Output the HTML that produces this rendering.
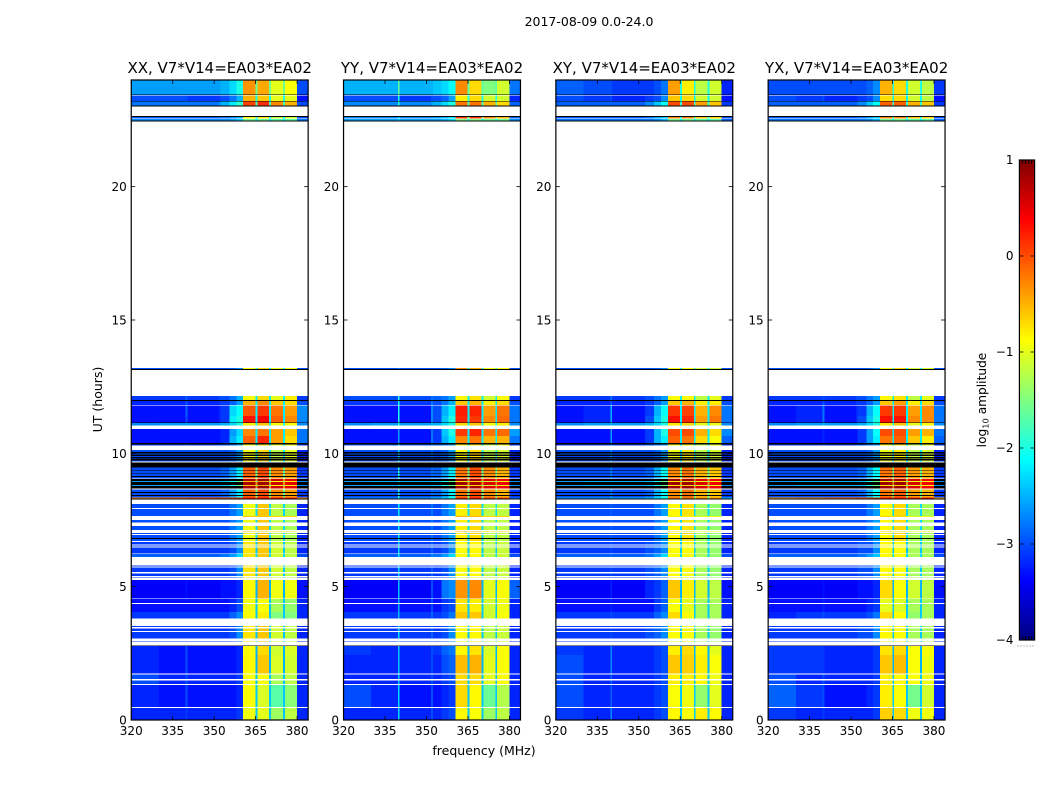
<!DOCTYPE html>
<html lang="en">
<head>
<meta charset="utf-8">
<title>2017-08-09 0.0-24.0 dynamic spectra</title>
<style>
html,body{margin:0;padding:0;background:#fff;}
svg{display:block;font-family:"DejaVu Sans","Liberation Sans",sans-serif;}
</style>
</head>
<body>
<svg id="figure" xmlns="http://www.w3.org/2000/svg" width="1050" height="800" viewBox="0 0 1050 800">
  <rect x="0" y="0" width="1050" height="800" fill="#fff"/>
  <text x="589" y="26" font-size="12.5" text-anchor="middle" fill="#000">2017-08-09 0.0-24.0</text>
  <text x="0" y="0" transform="translate(102,399.5) rotate(-90)" font-size="12.5" text-anchor="middle" fill="#000">UT (hours)</text>
  <text x="484" y="755" font-size="12.5" text-anchor="middle" fill="#000">frequency (MHz)</text>
  <text x="0" y="0" transform="translate(986,400) rotate(-90)" font-size="12.2" text-anchor="middle" fill="#000">log<tspan font-size="8.3" dy="2.5">10</tspan><tspan dy="-2.5"> amplitude</tspan></text>
  <g id="panels"></g>
  <g id="colorbar"></g>
</svg>
<script>
/* ---------- axis data ---------- */
const panelTitles = ["XX, V7*V14=EA03*EA02", "YY, V7*V14=EA03*EA02", "XY, V7*V14=EA03*EA02", "YX, V7*V14=EA03*EA02"];
const panelKeys = ["xx", "yy", "xy", "yx"];
const freqTicks = [320, 335, 350, 365, 380];
const hourTicks = [0, 5, 10, 15, 20];
const colorbarTicks = [1, 0, -1, -2, -3, -4];
const colorbarTickLabels = ["1", "0", "\u22121", "\u22122", "\u22123", "\u22124"];
const freqRange = [320, 384];
const hourRange = [0, 24];
const levelRange = [-4, 1];

/* frequency channel-group edges (MHz), 16 columns */
const freqEdges = [320, 330, 339.7, 340.3, 351.7, 352.3, 355.5, 358, 360.5, 364.9, 365.6, 369.9, 370.6, 374.9, 375.6, 380, 384];

/* time rows: [hour at top of the row, spectrum profile], read top to bottom; each ends at the next row */
const timeRows = [
[24.00,"T1"],[23.46,"flag"],[23.44,"gap"],[23.41,"T2"],[23.21,"flag"],[23.19,"T3"],[23.04,"flag"],[23.00,"gap"],
[22.65,"flag"],[22.61,"T4"],[22.56,"gap"],[22.53,"T5"],[22.49,"flag"],[22.45,"gap"],[13.20,"T6"],[13.16,"flag"],[13.13,"gap"],
[12.15,"M1"],[12.00,"flag"],[11.96,"M3"],[11.82,"gap"],[11.79,"H1"],[11.40,"H2"],[11.16,"flag"],[11.13,"M2"],[11.04,"gap"],
[10.91,"H3"],[10.65,"H4"],[10.38,"flag"],[10.34,"M1"],[10.29,"gap"],[10.13,"S1"],[10.05,"flag"],[9.99,"S1"],[9.96,"flag"],
[9.90,"S1"],[9.86,"flag"],[9.81,"S1"],[9.78,"flag"],[9.73,"S1"],[9.69,"gap"],[9.65,"flag"],[9.46,"S2"],[9.38,"flag"],
[9.35,"S2"],[9.26,"flag"],[9.24,"S2"],[9.15,"flag"],[9.12,"S2"],[9.06,"gap"],[9.03,"D"],[8.96,"S3"],[8.93,"D"],[8.81,"S3"],
[8.78,"D"],[8.69,"gap"],[8.64,"S2"],[8.55,"flag"],[8.51,"S2"],[8.44,"flag"],[8.40,"S2"],[8.35,"R"],[8.30,"flag"],[8.26,"gap"],
[8.10,"L1"],[7.95,"gap"],[7.91,"L1"],[7.65,"Y"],[7.61,"gap"],[7.50,"L1"],[7.40,"gap"],[7.28,"L1"],[7.13,"gap"],[7.09,"Y"],
[7.06,"gap"],[7.02,"L1"],[6.98,"gap"],[6.93,"L1"],[6.83,"flag"],[6.79,"L1"],[6.71,"gap"],[6.68,"L4"],[6.59,"gap"],[6.55,"L4"],
[6.50,"gap"],[6.46,"L4"],[6.25,"gap"],[6.23,"L5"],[6.12,"gap"],[5.80,"L4"],[5.76,"gap"],[5.72,"L4"],[5.55,"gap"],[5.50,"L4"],
[5.40,"gap"],[5.35,"L4"],[5.33,"gap"],[5.25,"L6"],[4.56,"gap"],[4.53,"L7"],[4.39,"gap"],[4.35,"L7"],[4.05,"L8"],[3.80,"gap"],
[3.53,"L4"],[3.48,"gap"],[3.44,"L4"],[3.34,"gap"],[3.30,"L4"],[3.06,"gap"],[2.97,"L4"],[2.94,"gap"],[2.80,"flag"],[2.78,"B1"],
[2.44,"B2"],[1.75,"gap"],[1.71,"B3"],[1.53,"gap"],[1.49,"B3"],[1.35,"gap"],[1.31,"B4"],[0.49,"gap"],[0.45,"B5"]
];

/* log10 amplitude per profile; columns follow freqEdges; values below the range draw black, null stays white */
const xxLevels = {
T1:[-2.6,-2.6,-2.6,-2.6,-2.6,-2.5,-2.3,-2.0,-0.35,-1.6,-0.45,-1.6,-1.0,-1.6,-0.9,-3.0],
T2:[-3.0,-3.0,-3.0,-3.1,-3.1,-3.0,-2.8,-2.5,-0.5,-2.0,-0.6,-2.0,-1.0,-2.0,-1.0,-3.3],
T3:[-2.8,-2.8,-2.8,-2.8,-2.7,-2.5,-2.2,-1.9,0.05,-1.8,0.15,-1.8,-0.3,-1.8,-0.5,-3.0],
T4:[-2.9,-2.9,-2.9,-2.9,-2.9,-2.8,-2.7,-2.5,-0.9,-2.2,-0.8,-2.2,-1.2,-2.2,-1.1,-3.0],
T5:[-2.7,-2.7,-2.7,-2.7,-2.7,-2.7,-2.6,-2.4,-1.6,-2.2,-1.6,-2.2,-1.7,-2.2,-1.7,-2.8],
T6:[-3.0,-3.0,-3.0,-3.0,-3.0,-3.0,-2.9,-2.7,-0.9,-2.2,-0.7,-2.2,-1.0,-2.2,-0.9,-3.0],
M1:[-3.1,-3.1,-2.9,-3.1,-3.0,-3.0,-2.8,-2.5,-0.9,-2.2,-0.7,-2.2,-1.0,-2.2,-0.8,-3.1],
M2:[-2.7,-2.6,-2.6,-2.6,-2.6,-2.5,-2.3,-2.0,-0.8,-2.0,-0.6,-2.0,-0.9,-2.0,-0.9,-2.7],
M3:[-3.2,-3.2,-3.0,-3.2,-3.1,-3.1,-2.9,-2.6,-0.5,-2.2,-0.3,-2.2,-0.6,-2.2,-0.7,-3.0],
H1:[-3.3,-3.3,-2.9,-3.3,-3.2,-3.1,-2.3,-2.1,-0.05,-2.2,0.1,-2.2,-0.2,-2.2,-0.4,-2.7],
H2:[-3.3,-3.3,-3.0,-3.3,-3.2,-3.1,-2.2,-2.0,0.3,-2.2,0.4,-2.2,-0.1,-2.2,-0.3,-2.7],
H3:[-3.3,-3.3,-3.3,-3.3,-3.3,-3.2,-2.6,-2.3,-0.3,-2.2,-0.2,-2.2,-0.4,-2.2,-0.6,-2.8],
H4:[-3.3,-3.3,-3.3,-3.3,-3.3,-3.2,-2.5,-2.2,-0.1,-2.2,0.2,-2.2,-0.4,-2.2,-0.7,-2.8],
S1:[-3.0,-3.0,-3.0,-3.0,-3.0,-3.0,-2.9,-2.6,-0.9,-2.2,-0.7,-2.2,-1.2,-2.2,-1.0,-3.2],
S2:[-3.0,-3.0,-3.0,-3.0,-3.0,-2.9,-2.6,-2.2,-0.1,-1.6,0.0,-1.6,-0.3,-1.6,-0.4,-3.1],
S3:[-2.6,-2.5,-2.5,-2.5,-2.5,-2.4,-2.0,-1.6,-0.6,-1.6,-0.5,-1.6,-0.9,-1.6,-0.8,-2.7],
D:[-9,-9,-9,-9,-9,-9,-9,-9,0.8,-0.3,0.85,-0.3,0.6,-0.3,0.5,-9],
R:[-0.3,-0.2,-0.2,-0.1,-0.1,-0.1,0.0,0.1,0.3,0.0,0.3,0.0,0.3,0.0,0.3,-0.4],
L1:[-3.0,-3.0,-3.0,-3.0,-3.0,-3.0,-2.8,-2.6,-0.95,-2.3,-0.6,-2.3,-1.2,-2.3,-1.3,-3.2],
L4:[-3.1,-3.1,-3.1,-3.1,-3.1,-3.1,-3.0,-2.7,-0.75,-2.4,-0.6,-2.4,-1.1,-2.4,-1.2,-3.2],
L5:[-2.9,-2.9,-2.9,-2.9,-2.9,-2.8,-2.6,-2.3,-0.75,-2.3,-0.6,-2.3,-1.1,-2.3,-1.2,-3.0],
L6:[-3.4,-3.4,-3.3,-3.4,-3.4,-3.3,-3.3,-3.2,-0.85,-2.5,-0.5,-2.5,-0.95,-2.5,-0.95,-3.3],
L7:[-3.3,-3.3,-3.3,-3.3,-3.3,-3.3,-3.2,-3.0,-0.95,-2.4,-0.9,-2.4,-1.3,-2.4,-1.4,-3.2],
L8:[-3.1,-3.1,-3.1,-3.1,-3.1,-3.1,-2.9,-2.7,-0.9,-2.4,-0.8,-2.4,-1.5,-2.4,-1.5,-3.2],
Y:[null,null,null,null,null,null,null,null,-0.6,-0.8,-0.6,-0.8,-0.7,-0.8,-0.7,null],
B1:[-3.2,-3.3,-3.0,-3.3,-3.3,-3.3,-3.3,-3.2,-0.9,-2.5,-0.7,-2.5,-1.1,-2.5,-1.05,-3.2],
B2:[-3.2,-3.3,-3.0,-3.3,-3.3,-3.3,-3.3,-3.2,-0.85,-2.5,-0.6,-2.5,-1.05,-2.5,-1.1,-3.2],
B3:[-3.0,-3.2,-3.0,-3.2,-3.2,-3.2,-3.2,-3.1,-0.9,-2.4,-0.9,-2.4,-1.3,-2.4,-1.2,-3.2],
B4:[-3.2,-3.3,-3.0,-3.3,-3.3,-3.3,-3.3,-3.2,-0.9,-2.4,-1.05,-2.4,-1.7,-2.4,-1.45,-3.2],
B5:[-3.2,-3.2,-3.1,-3.2,-3.2,-3.2,-3.2,-3.1,-0.95,-2.4,-1.0,-2.4,-1.35,-2.4,-1.2,-3.2]
};
const yyLevels = {
T1:[-2.5,-2.5,-1.6,-2.5,-2.5,-2.4,-2.3,-2.1,-0.3,-1.7,-0.7,-1.7,-1.5,-1.7,-1.1,-2.8],
T2:[-3.0,-3.0,-2.0,-3.1,-3.0,-3.0,-2.9,-2.6,-0.8,-2.0,-0.7,-2.0,-1.1,-2.0,-1.1,-3.2],
T3:[-2.7,-2.7,-1.9,-2.7,-2.6,-2.5,-2.3,-2.0,-0.2,-1.8,-0.2,-1.8,-0.5,-1.8,-0.7,-2.9],
T4:[-2.7,-2.7,-2.3,-2.7,-2.7,-2.6,-2.5,-2.3,0.1,-1.5,0.1,-1.5,-0.3,-1.5,-0.5,-2.9],
T5:[-2.6,-2.6,-2.3,-2.6,-2.6,-2.6,-2.5,-2.3,-1.5,-2.1,-1.5,-2.1,-1.6,-2.1,-1.6,-2.7],
T6:[-3.0,-3.0,-2.7,-3.0,-3.0,-3.0,-2.9,-2.7,-0.3,-2.2,-0.5,-2.2,-0.9,-2.2,-0.9,-3.0],
M1:[-3.0,-3.0,-2.0,-3.0,-2.8,-2.9,-2.8,-2.6,-0.85,-2.2,-0.75,-2.2,-1.1,-2.2,-0.9,-3.1],
M2:[-2.7,-2.6,-1.9,-2.6,-2.5,-2.5,-2.3,-2.0,-0.7,-2.0,-0.6,-2.0,-0.9,-2.0,-0.8,-2.7],
M3:[-3.1,-3.1,-2.0,-3.1,-2.8,-3.0,-2.8,-2.5,-0.6,-2.2,-0.5,-2.2,-0.8,-2.2,-0.7,-3.0],
H1:[-3.3,-3.3,-2.0,-3.3,-2.7,-3.0,-2.5,-2.2,0.25,-2.2,0.2,-2.2,-0.4,-2.2,-0.2,-2.8],
H2:[-3.3,-3.3,-2.0,-3.3,-2.7,-3.0,-2.4,-2.0,0.2,-2.2,0.1,-2.2,-0.3,-2.2,-0.15,-2.8],
H3:[-3.3,-3.3,-2.6,-3.3,-2.8,-3.1,-2.4,-2.0,0.1,-2.2,0.2,-2.2,-0.2,-2.2,-0.15,-2.6],
H4:[-3.3,-3.3,-2.6,-3.3,-2.8,-3.1,-2.5,-2.2,-0.3,-2.2,-0.2,-2.2,-0.5,-2.2,-0.5,-2.8],
S1:[-3.0,-3.0,-2.2,-3.0,-2.8,-3.0,-2.9,-2.6,-0.9,-2.2,-0.7,-2.2,-1.2,-2.2,-1.1,-3.2],
S2:[-3.0,-3.0,-2.0,-3.0,-2.8,-2.9,-2.6,-2.2,-0.2,-1.6,0.0,-1.6,-0.3,-1.6,-0.5,-3.1],
S3:[-2.6,-2.5,-2.0,-2.5,-2.4,-2.4,-2.0,-1.6,-0.8,-1.6,-0.7,-1.6,-1.1,-1.6,-1.0,-2.7],
D:[-9,-9,-9,-9,-9,-9,-9,-9,0.85,-0.3,0.8,-0.3,0.55,-0.3,0.45,-9],
R:[-2.7,-2.7,-2.2,-2.6,-2.5,-2.4,-2.3,-2.0,0.2,-1.5,0.3,-1.5,0.1,-1.5,0.1,-2.8],
L1:[-3.0,-3.0,-2.2,-3.0,-2.8,-3.0,-2.8,-2.6,-0.8,-2.3,-0.7,-2.3,-1.2,-2.3,-1.2,-3.2],
L4:[-3.1,-3.1,-2.3,-3.1,-2.9,-3.1,-3.0,-2.7,-0.9,-2.4,-0.85,-2.4,-1.2,-2.4,-1.15,-3.2],
L5:[-2.9,-2.9,-2.2,-2.9,-2.7,-2.8,-2.6,-2.3,-0.9,-2.3,-0.85,-2.3,-1.2,-2.3,-1.15,-3.0],
L6:[-3.4,-3.4,-2.4,-3.4,-3.0,-3.3,-2.8,-2.7,-0.35,-2.5,-0.3,-2.5,-1.0,-2.5,-0.9,-2.9],
L7:[-3.3,-3.3,-2.5,-3.3,-3.0,-3.3,-3.1,-3.0,-0.75,-2.4,-0.8,-2.4,-1.1,-2.4,-0.95,-3.2],
L8:[-3.1,-3.1,-2.5,-3.1,-2.9,-3.1,-3.0,-2.8,-0.6,-2.4,-0.6,-2.4,-1.1,-2.4,-0.9,-3.2],
Y:[null,null,null,null,null,null,null,null,-0.5,-0.7,-0.5,-0.7,-0.7,-0.7,-0.7,null],
B1:[-3.1,-3.2,-2.4,-3.2,-3.0,-3.1,-2.9,-2.8,-0.85,-2.5,-0.75,-2.5,-1.05,-2.5,-0.9,-3.2],
B2:[-3.2,-3.2,-2.4,-3.2,-3.0,-3.2,-3.0,-2.9,-0.55,-2.5,-0.5,-2.5,-1.0,-2.5,-0.9,-3.2],
B3:[-3.2,-3.2,-2.4,-3.2,-3.0,-3.2,-3.1,-3.0,-0.7,-2.4,-0.7,-2.4,-1.0,-2.4,-0.9,-3.2],
B4:[-3.0,-3.2,-2.3,-3.3,-3.0,-3.3,-3.2,-3.1,-0.7,-2.4,-0.85,-2.4,-1.6,-2.4,-1.25,-3.2],
B5:[-3.2,-3.2,-2.3,-3.2,-3.0,-3.2,-3.1,-3.0,-0.85,-2.4,-0.9,-2.4,-1.35,-2.4,-1.2,-3.2]
};
const xyLevels = {
T1:[-2.9,-3.0,-3.0,-3.1,-3.1,-3.1,-3.0,-2.8,-0.4,-2.0,-0.8,-2.0,-1.2,-2.0,-1.1,-3.2],
T2:[-3.0,-3.1,-3.0,-3.2,-3.2,-3.1,-3.0,-2.7,-0.6,-2.1,-0.7,-2.1,-1.1,-2.1,-1.1,-3.3],
T3:[-2.9,-2.9,-2.9,-2.9,-2.9,-2.7,-2.4,-2.1,0.0,-1.9,0.0,-1.9,-0.4,-1.9,-0.6,-3.1],
T4:[-2.9,-2.9,-2.9,-2.9,-2.9,-2.8,-2.6,-2.4,-0.3,-2.0,-0.3,-2.0,-0.6,-2.0,-0.7,-3.0],
T5:[-2.8,-2.8,-2.8,-2.8,-2.8,-2.8,-2.7,-2.5,-1.6,-2.2,-1.6,-2.2,-1.7,-2.2,-1.7,-2.9],
T6:[-3.0,-3.0,-3.0,-3.0,-3.0,-3.0,-2.9,-2.7,-0.9,-2.2,-0.9,-2.2,-1.1,-2.2,-1.1,-3.0],
M1:[-3.1,-3.1,-2.8,-3.1,-3.1,-3.0,-2.8,-2.6,-0.9,-2.2,-0.85,-2.2,-1.2,-2.2,-1.0,-3.1],
M2:[-2.7,-2.6,-2.5,-2.6,-2.6,-2.5,-2.3,-2.0,-0.75,-2.0,-0.7,-2.0,-1.0,-2.0,-1.0,-2.7],
M3:[-3.2,-3.2,-2.9,-3.2,-3.2,-3.1,-2.9,-2.6,-0.6,-2.2,-0.5,-2.2,-0.8,-2.2,-0.8,-3.0],
H1:[-3.3,-3.2,-2.5,-3.3,-3.3,-3.1,-2.5,-2.1,0.1,-2.2,0.05,-2.2,-0.5,-2.2,-0.3,-2.8],
H2:[-3.3,-3.2,-2.5,-3.3,-3.3,-3.0,-2.4,-2.0,0.3,-2.2,0.2,-2.2,-0.4,-2.2,-0.2,-2.8],
H3:[-3.3,-3.3,-2.6,-3.3,-3.3,-3.1,-2.5,-2.0,0.0,-2.2,0.0,-2.2,-0.5,-2.2,-0.7,-2.7],
H4:[-3.3,-3.3,-2.6,-3.3,-3.3,-3.1,-2.5,-2.2,-0.1,-2.2,-0.2,-2.2,-0.7,-2.2,-0.9,-2.9],
S1:[-3.0,-3.0,-2.6,-3.0,-3.0,-3.0,-2.9,-2.6,-0.95,-2.2,-0.8,-2.2,-1.2,-2.2,-1.1,-3.2],
S2:[-3.0,-3.0,-2.7,-3.0,-3.0,-2.9,-2.5,-2.1,-0.3,-1.6,-0.2,-1.6,-0.5,-1.6,-0.6,-3.1],
S3:[-2.6,-2.5,-2.4,-2.5,-2.5,-2.4,-2.0,-1.6,-0.8,-1.6,-0.7,-1.6,-1.0,-1.6,-1.0,-2.7],
D:[-9,-9,-9,-9,-9,-9,-9,-9,0.85,-0.3,0.85,-0.3,0.55,-0.3,0.45,-9],
R:[-2.6,-2.6,-2.4,-2.5,-2.5,-2.4,-2.2,-2.0,-0.2,-1.6,-0.2,-1.6,-0.3,-1.6,-0.3,-2.4],
L1:[-3.0,-3.0,-2.9,-3.0,-3.0,-3.0,-2.8,-2.6,-0.85,-2.3,-0.75,-2.3,-1.3,-2.3,-1.4,-3.2],
L4:[-3.1,-3.1,-3.0,-3.1,-3.1,-3.0,-2.9,-2.7,-0.9,-2.4,-0.9,-2.4,-1.3,-2.4,-1.4,-3.2],
L5:[-2.9,-2.9,-2.8,-2.9,-2.9,-2.8,-2.6,-2.3,-0.9,-2.3,-0.9,-2.3,-1.3,-2.3,-1.4,-3.0],
L6:[-3.4,-3.4,-3.2,-3.4,-3.4,-3.2,-3.1,-2.9,-0.6,-2.5,-0.8,-2.5,-1.1,-2.5,-1.2,-3.3],
L7:[-3.3,-3.3,-3.2,-3.3,-3.3,-3.3,-3.1,-2.9,-0.9,-2.4,-1.0,-2.4,-1.3,-2.4,-1.3,-3.2],
L8:[-3.1,-3.1,-3.0,-3.1,-3.1,-3.1,-2.9,-2.7,-0.7,-2.4,-0.9,-2.4,-1.3,-2.4,-1.3,-3.2],
Y:[null,null,null,null,null,null,null,null,-0.8,-0.9,-0.8,-0.9,-1.0,-0.9,-1.0,null],
B1:[-3.1,-3.2,-2.7,-3.2,-3.2,-3.2,-3.1,-3.0,-0.8,-2.5,-0.7,-2.5,-0.85,-2.5,-1.0,-3.2],
B2:[-3.0,-3.2,-2.7,-3.2,-3.2,-3.2,-3.1,-3.0,-0.6,-2.5,-0.65,-2.5,-0.8,-2.5,-0.9,-3.2],
B3:[-3.0,-3.2,-2.9,-3.2,-3.2,-3.2,-3.1,-3.0,-0.8,-2.4,-0.8,-2.4,-0.85,-2.4,-0.95,-3.2],
B4:[-3.0,-3.2,-2.9,-3.2,-3.2,-3.2,-3.1,-3.0,-0.9,-2.4,-0.95,-2.4,-1.4,-2.4,-1.0,-3.2],
B5:[-3.1,-3.2,-2.7,-3.2,-3.2,-3.2,-3.1,-3.0,-0.85,-2.4,-0.9,-2.4,-0.8,-2.4,-0.85,-3.2]
};
const yxLevels = {
T1:[-3.0,-3.0,-3.0,-3.0,-3.0,-3.0,-2.9,-2.7,-0.5,-2.0,-0.7,-2.0,-1.1,-2.0,-1.2,-3.1],
T2:[-3.0,-3.1,-3.0,-3.2,-3.2,-3.1,-3.0,-2.7,-0.7,-2.1,-0.7,-2.1,-1.1,-2.1,-1.2,-3.3],
T3:[-2.9,-2.9,-2.9,-2.9,-2.9,-2.7,-2.4,-2.1,-0.1,-1.9,-0.1,-1.9,-0.5,-1.9,-0.6,-3.1],
T4:[-2.9,-2.9,-2.9,-2.9,-2.9,-2.8,-2.6,-2.4,-0.3,-2.0,-0.3,-2.0,-0.6,-2.0,-0.7,-3.0],
T5:[-2.8,-2.8,-2.8,-2.8,-2.8,-2.8,-2.7,-2.5,-1.6,-2.2,-1.6,-2.2,-1.7,-2.2,-1.7,-2.9],
T6:[-3.0,-3.0,-3.0,-3.0,-3.0,-3.0,-2.9,-2.7,-0.9,-2.2,-0.7,-2.2,-1.1,-2.2,-1.1,-3.0],
M1:[-3.1,-3.1,-3.0,-3.1,-3.0,-3.0,-2.8,-2.6,-0.85,-2.2,-0.75,-2.2,-1.2,-2.2,-1.0,-3.1],
M2:[-2.7,-2.6,-2.5,-2.6,-2.6,-2.5,-2.3,-2.0,-0.75,-2.0,-0.6,-2.0,-1.0,-2.0,-0.9,-2.7],
M3:[-3.2,-3.2,-3.0,-3.2,-3.1,-3.1,-2.9,-2.6,-0.6,-2.2,-0.4,-2.2,-0.8,-2.2,-0.7,-3.0],
H1:[-3.3,-3.2,-2.8,-3.3,-3.2,-3.1,-2.5,-2.1,0.1,-2.2,0.1,-2.2,-0.4,-2.2,-0.3,-2.8],
H2:[-3.3,-3.2,-2.8,-3.3,-3.2,-3.0,-2.4,-2.0,0.3,-2.2,0.3,-2.2,-0.3,-2.2,-0.3,-2.8],
H3:[-3.3,-3.3,-3.2,-3.3,-3.3,-3.1,-2.6,-2.1,0.0,-2.2,0.0,-2.2,-0.4,-2.2,-0.5,-2.8],
H4:[-3.3,-3.3,-3.2,-3.3,-3.3,-3.1,-2.6,-2.2,-0.2,-2.2,-0.1,-2.2,-0.6,-2.2,-0.8,-2.9],
S1:[-3.0,-3.0,-3.0,-3.0,-3.0,-3.0,-2.9,-2.6,-0.95,-2.2,-0.8,-2.2,-1.2,-2.2,-1.1,-3.2],
S2:[-3.0,-3.0,-3.0,-3.0,-3.0,-2.9,-2.5,-2.1,-0.2,-1.6,-0.1,-1.6,-0.4,-1.6,-0.5,-3.1],
S3:[-2.6,-2.5,-2.5,-2.5,-2.5,-2.4,-2.0,-1.6,-0.8,-1.6,-0.7,-1.6,-1.0,-1.6,-0.9,-2.7],
D:[-9,-9,-9,-9,-9,-9,-9,-9,0.85,-0.3,0.85,-0.3,0.55,-0.3,0.45,-9],
R:[-0.4,-0.3,-0.3,-0.2,-0.1,-0.1,0.0,0.1,0.3,0.0,0.3,0.0,0.3,0.0,0.3,-0.5],
L1:[-3.0,-3.0,-3.0,-3.0,-3.0,-3.0,-2.8,-2.6,-0.85,-2.3,-0.7,-2.3,-1.3,-2.3,-1.3,-3.2],
L4:[-3.1,-3.1,-3.1,-3.1,-3.1,-3.0,-3.0,-2.7,-0.85,-2.4,-0.9,-2.4,-1.3,-2.4,-1.3,-3.2],
L5:[-2.9,-2.9,-2.9,-2.9,-2.9,-2.8,-2.6,-2.4,-0.85,-2.3,-0.9,-2.3,-1.3,-2.3,-1.3,-3.0],
L6:[-3.4,-3.4,-3.3,-3.4,-3.4,-3.3,-3.3,-3.2,-0.7,-2.5,-0.9,-2.5,-1.1,-2.5,-1.2,-3.3],
L7:[-3.3,-3.3,-3.2,-3.3,-3.3,-3.3,-3.2,-3.1,-1.0,-2.4,-1.05,-2.4,-1.3,-2.4,-1.3,-3.2],
L8:[-3.2,-3.1,-3.0,-3.1,-3.1,-3.1,-3.0,-2.8,-0.7,-2.4,-0.9,-2.4,-1.4,-2.4,-1.3,-3.2],
Y:[null,null,null,null,null,null,null,null,-0.7,-0.9,-0.7,-0.9,-1.0,-0.9,-1.0,null],
B1:[-3.1,-3.1,-3.1,-3.2,-3.2,-3.2,-3.2,-3.1,-0.75,-2.5,-0.7,-2.5,-0.9,-2.5,-0.9,-3.2],
B2:[-3.1,-3.1,-3.1,-3.2,-3.2,-3.2,-3.2,-3.1,-0.6,-2.5,-0.55,-2.5,-0.9,-2.5,-0.95,-3.2],
B3:[-3.0,-3.2,-3.0,-3.2,-3.2,-3.2,-3.2,-3.1,-0.8,-2.4,-0.85,-2.4,-0.9,-2.4,-0.95,-3.2],
B4:[-2.9,-3.1,-3.0,-3.3,-3.3,-3.3,-3.2,-3.1,-0.8,-2.4,-0.9,-2.4,-1.55,-2.4,-1.1,-3.2],
B5:[-3.1,-3.2,-3.1,-3.2,-3.2,-3.2,-3.2,-3.1,-0.65,-2.4,-0.7,-2.4,-0.95,-2.4,-0.95,-3.2]
};
const panelLevels = { xx: xxLevels, yy: yyLevels, xy: xyLevels, yx: yxLevels };

/* ---------- layout ---------- */
const SVG_NS = "http://www.w3.org/2000/svg";
const plotTop = 80, plotBottom = 720, panelWidth = 176.9, panelStep = 212.3, firstPanelLeft = 131.25;
const cbLeft = 1019.4, cbRight = 1034.6, cbTop = 160, cbBottom = 640;

function make(parent, tag, attrs, text) {
  const el = document.createElementNS(SVG_NS, tag);
  for (const k in attrs) el.setAttribute(k, attrs[k]);
  if (text !== undefined) el.textContent = text;
  parent.appendChild(el);
  return el;
}
function panelLeft(i) { return firstPanelLeft + panelStep * i; }
function xScale(i, freq) { return panelLeft(i) + (freq - freqRange[0]) / (freqRange[1] - freqRange[0]) * panelWidth; }
function yScale(hour) { return plotBottom - (hour - hourRange[0]) / (hourRange[1] - hourRange[0]) * (plotBottom - plotTop); }
function cbScale(level) { return cbBottom - (level - levelRange[0]) / (levelRange[1] - levelRange[0]) * (cbBottom - cbTop); }
function jet(t) {
  const ch = v => Math.round(255 * Math.max(0, Math.min(1, v)));
  return "rgb(" + ch(Math.min(4 * t - 1.5, -4 * t + 4.5)) + "," + ch(Math.min(4 * t - 0.5, -4 * t + 3.5)) + "," + ch(Math.min(4 * t + 0.5, -4 * t + 2.5)) + ")";
}
function levelColor(level) {
  if (level < levelRange[0]) return "#000";
  return jet(Math.min(1, (level - levelRange[0]) / (levelRange[1] - levelRange[0])));
}

const panelsGroup = document.getElementById("panels");
panelTitles.forEach(function (title, p) {
  const table = panelLevels[panelKeys[p]];
  const left = panelLeft(p), right = left + panelWidth;

  const panel = make(panelsGroup, "g", {});
  
  

  const cells = make(panel, "g", { "shape-rendering": "crispEdges" });
  
  

  timeRows.forEach(function (row, r) {
    const profile = row[1];
    if (profile === "gap") return;
    const bottomHour = r + 1 < timeRows.length ? timeRows[r + 1][0] : hourRange[0];
    const y0 = yScale(row[0]), y1 = yScale(bottomHour);
    if (profile === "flag") {
      const flagged = make(cells, "rect", { x: left, y: y0, width: panelWidth, height: y1 - y0, fill: "#000" });
      
      
      return;
    }
    const levels = table[profile];
    for (let c = 0; c < freqEdges.length - 1; c++) {
      if (levels[c] === null) continue;
      const x0 = xScale(p, freqEdges[c]), x1 = xScale(p, freqEdges[c + 1]);
      const cell = make(cells, "rect", { x: x0, y: y0, width: x1 - x0, height: y1 - y0, fill: levelColor(levels[c]) });
      
      
    }
  });

  const frame = make(panel, "rect", { x: left, y: plotTop, width: panelWidth, height: plotBottom - plotTop, fill: "none", stroke: "#000", "stroke-width": 1.2 });
  
  

  const titleEl = make(panel, "text", { x: left + panelWidth / 2, y: 73, "font-size": 15, "text-anchor": "middle", fill: "#000" }, title);
  
  

  freqTicks.forEach(function (f) {
    const x = xScale(p, f);
    const tickB = make(panel, "line", { x1: x, x2: x, y1: plotBottom, y2: plotBottom - 4, stroke: "#000", "stroke-width": 0.8 });
    
    
    const tickT = make(panel, "line", { x1: x, x2: x, y1: plotTop, y2: plotTop + 4, stroke: "#000", "stroke-width": 0.8 });
    
    
    const lab = make(panel, "text", { x: x, y: 735, "font-size": 12, "text-anchor": "middle", fill: "#000" }, String(f));
    
    
  });
  hourTicks.forEach(function (h) {
    const y = yScale(h);
    const tickL = make(panel, "line", { x1: left, x2: left + 4, y1: y, y2: y, stroke: "#000", "stroke-width": 0.8 });
    
    
    const tickR = make(panel, "line", { x1: right, x2: right - 4, y1: y, y2: y, stroke: "#000", "stroke-width": 0.8 });
    
    
    const lab = make(panel, "text", { x: left - 4.5, y: y + 4.5, "font-size": 12, "text-anchor": "end", fill: "#000" }, String(h));
    
    
  });
});

/* ---------- colorbar ---------- */
const cbGroup = document.getElementById("colorbar");
const cbRamp = make(cbGroup, "g", { "shape-rendering": "crispEdges" });


for (let py = cbTop; py < cbBottom; py += 2) {
  const level = levelRange[1] - (py + 1 - cbTop) / (cbBottom - cbTop) * (levelRange[1] - levelRange[0]);
  const seg = make(cbRamp, "rect", { x: cbLeft, y: py, width: cbRight - cbLeft, height: 2, fill: levelColor(level) });
  
  
}
const cbFrame = make(cbGroup, "rect", { x: cbLeft, y: cbTop, width: cbRight - cbLeft, height: cbBottom - cbTop, fill: "none", stroke: "#000", "stroke-width": 1.2 });


colorbarTicks.forEach(function (level, i) {
  const y = cbScale(level);
  const tL = make(cbGroup, "line", { x1: cbLeft, x2: cbLeft + 4, y1: y, y2: y, stroke: "#000", "stroke-width": 0.8 });
  
  
  const tR = make(cbGroup, "line", { x1: cbRight, x2: cbRight - 4, y1: y, y2: y, stroke: "#000", "stroke-width": 0.8 });
  
  
  const lab = make(cbGroup, "text", { x: 1013.5, y: y + 4, "font-size": 12, "text-anchor": "end", fill: "#000" }, colorbarTickLabels[i]);
  
  
});
for (let k = 1; k <= 4; k++) {
  const hx = cbLeft + k * (cbRight - cbLeft) / 5;
  const hashTop = make(cbGroup, "line", { x1: hx, x2: hx, y1: cbTop, y2: cbTop + 4, stroke: "#000", "stroke-width": 0.8 });
  
  
  const hashBottom = make(cbGroup, "line", { x1: hx, x2: hx, y1: cbBottom, y2: cbBottom - 4, stroke: "#000", "stroke-width": 0.8 });
  
  
}
const cbDots = make(cbGroup, "line", { x1: 1017.5, x2: 1035, y1: 646, y2: 646, stroke: "#777", "stroke-width": 1, "stroke-dasharray": "1 2" });


</script>
</body>
</html>
